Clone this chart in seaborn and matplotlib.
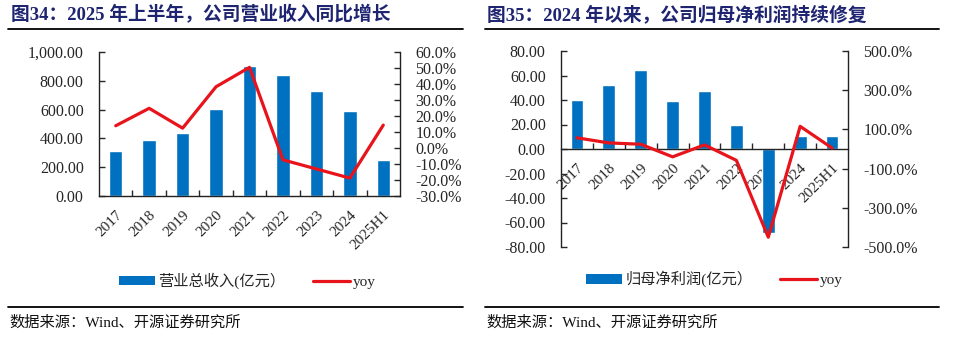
import matplotlib
matplotlib.use("Agg")
import matplotlib.pyplot as plt
from matplotlib.lines import Line2D
from matplotlib.patches import Patch
from matplotlib.ticker import FixedLocator, FuncFormatter
import numpy as np
import pandas as pd
import seaborn as sns

# Categories and series (revenue / net profit in 亿元, yoy in %)
years = ["2017", "2018", "2019", "2020", "2021", "2022", "2023", "2024", "2025H1"]
revenue = [311, 388, 436, 603, 905, 840, 730, 593, 249]
revenue_yoy = [13.9, 24.8, 12.4, 38.3, 50.4, -7.4, -13.1, -18.8, 14.3]
net_profit = [39.7, 52.0, 64.7, 38.9, 47.1, 19.7, -68.6, 10.7, 11.0]
profit_yoy = [57.0, 31.0, 24.4, -40.0, 21.0, -58.0, -450.0, 115.6, 5.0]

title_left = "图34：2025 年上半年，公司营业收入同比增长"
title_right = "图35：2024 年以来，公司归母净利润持续修复"
bar_label_left = "营业总收入(亿元）"
bar_label_right = "归母净利润(亿元）"
line_label = "yoy"
source_text = "数据来源：Wind、开源证券研究所"

BLUE = "#0070C0"
RED = "#E8141B"
NAVY = "#1E2470"
FONTS = ["Liberation Serif", "Noto Sans CJK SC", "DejaVu Sans"]

sns.set_theme(style="ticks")
plt.rcParams["font.family"] = FONTS
plt.rcParams["axes.edgecolor"] = "#222222"
plt.rcParams["axes.linewidth"] = 1.0

W, H = 966, 338
fig = plt.figure(figsize=(W / 100, H / 100), dpi=100)


def px_axes(left, top, right, bottom):
    return fig.add_axes([left / W, 1 - bottom / H, (right - left) / W, (bottom - top) / H])


def draw_panel(ax, values, yoy, ylim, yticks, y2lim, y2ticks, yfmt, y2fmt, zero_axis):
    df = pd.DataFrame({"year": years, "value": values, "yoy": yoy})
    sns.barplot(data=df, x="year", y="value", color=BLUE, saturation=1,
                width=0.4, ax=ax, zorder=2)
    ax2 = ax.twinx()
    sns.lineplot(data=df, x="year", y="yoy", color=RED, linewidth=2.3,
                 sort=False, ax=ax2, zorder=3)
    for a in (ax, ax2):
        a.set_xlabel("")
        a.set_ylabel("")
        a.grid(False)

    # Axis line placement first: moving a spine resets its tick styling
    ax.spines["top"].set_visible(False)
    ax.spines["right"].set_visible(False)
    for s in ("top", "bottom", "left"):
        ax2.spines[s].set_visible(False)
    if zero_axis:
        ax.spines["bottom"].set_position(("data", 0))

    ax.set_xlim(-0.5, len(years) - 0.5)
    ax.set_ylim(*ylim)
    ax.set_yticks(yticks)
    ax.yaxis.set_major_formatter(FuncFormatter(yfmt))
    ax2.set_ylim(*y2lim)
    ax2.set_yticks(y2ticks)
    ax2.yaxis.set_major_formatter(FuncFormatter(y2fmt))

    ax.set_xticks(range(len(years)))
    ax.set_xticklabels(years, rotation=45, ha="right", rotation_mode="anchor")
    ax.xaxis.set_minor_locator(FixedLocator(np.arange(0.5, len(years) - 1, 1.0)))
    ax.tick_params(axis="x", which="major", length=0, pad=9, labelsize=11)
    ax.tick_params(axis="x", which="minor", direction="in", length=4, width=1)
    ax.tick_params(axis="y", direction="in", length=4, width=1, pad=11, labelsize=11.5)
    ax2.tick_params(axis="y", direction="in", length=4, width=1, pad=11, labelsize=11.5)
    return ax2


# Left panel: revenue
axL = px_axes(99, 52, 400, 196)
axL2 = draw_panel(
    axL, revenue, revenue_yoy,
    (0, 1000), np.arange(0, 1001, 200),
    (-30, 60), np.arange(-30, 61, 10),
    lambda v, p: f"{v:,.2f}", lambda v, p: f"{v:.1f}%",
    zero_axis=False,
)

# Right panel: net profit
axR = px_axes(561, 51, 848, 247)
axR2 = draw_panel(
    axR, net_profit, profit_yoy,
    (-80, 80), np.arange(-80, 81, 20),
    (-500, 500), np.arange(-500, 501, 200),
    lambda v, p: f"{v:.2f}", lambda v, p: f"{v:.1f}%",
    zero_axis=True,
)

# Legends
for ax, label, cx, cy in ((axL, bar_label_left, 247, 281), (axR, bar_label_right, 714, 279)):
    handles = [Patch(facecolor=BLUE, edgecolor="none"),
               Line2D([], [], color=RED, linewidth=2.3)]
    ax.legend(handles, [label, line_label], loc="center",
              bbox_to_anchor=(cx / W, 1 - cy / H), bbox_transform=fig.transFigure,
              ncol=2, frameon=False, fontsize=11, handlelength=2.4,
              handleheight=0.6, handletextpad=0.2, columnspacing=1.8)

# Titles, rules and source notes
for x0, x1, tx, title in ((8, 463, 11, title_left), (485, 939, 487, title_right)):
    fig.text(tx / W, 1 - 15 / H, title, fontsize=13.5, fontweight="bold",
             color=NAVY, ha="left", va="center")
    fig.add_artist(Line2D([x0 / W, x1 / W], [1 - 29 / H] * 2, color="black", linewidth=1.3))
    fig.add_artist(Line2D([x0 / W, x1 / W], [1 - 307 / H] * 2, color="black", linewidth=1.3))
    fig.text((x0 + 1) / W, 1 - 323 / H, source_text, fontsize=11, color="#111111",
             ha="left", va="center")

fig.savefig("out.png", dpi=100)
